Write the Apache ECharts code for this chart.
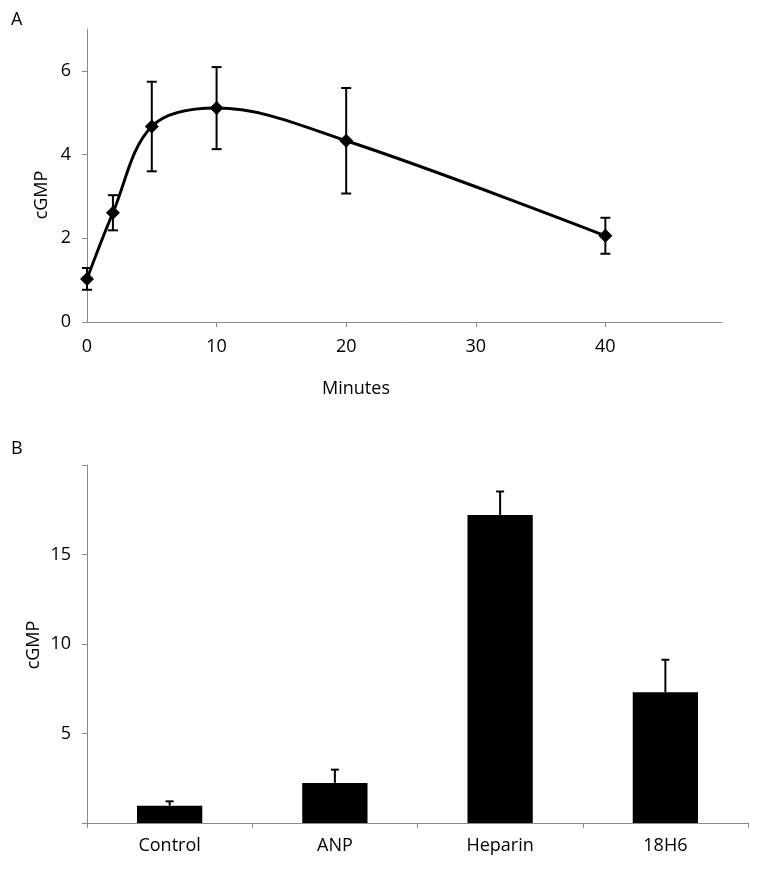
<!DOCTYPE html>
<html>
<head>
<meta charset="utf-8">
<script src="https://cdn.jsdelivr.net/npm/echarts@6/dist/echarts.min.js"></script>
<style>
html,body{margin:0;padding:0;background:#fff;}
#chart{width:762px;height:870px;}
</style>
</head>
<body>
<div id="chart"></div>
<script>
// Panel A data
const timeMin = [0, 2, 5, 10, 20, 40];
const cgmpTime = [1.03, 2.61, 4.67, 5.11, 4.33, 2.06];
const cgmpTimeErr = [0.26, 0.42, 1.07, 0.98, 1.26, 0.43];
const xTicksA = [0, 10, 20, 30, 40];
const yTicksA = [0, 2, 4, 6];

// Panel B data
const treatments = ['Control', 'ANP', 'Heparin', '18H6'];
const cgmpTreat = [0.97, 2.24, 17.21, 7.31];
const cgmpTreatErr = [0.24, 0.74, 1.31, 1.81];
const yTicksB = [5, 10, 15];

const FONT = 'Open Sans';
const AXIS_COLOR = '#8a8a8a';

const chart = echarts.init(document.getElementById('chart'), null, {renderer: 'canvas'});

const errDataA = timeMin.map((t, i) => [t, cgmpTime[i] - cgmpTimeErr[i], cgmpTime[i] + cgmpTimeErr[i]]);
const errDataB = treatments.map((c, i) => [i, cgmpTreat[i], cgmpTreat[i] + cgmpTreatErr[i]]);

function errRender(capHalf, both) {
  return function (params, api) {
    const lo = api.coord([api.value(0), api.value(1)]);
    const hi = api.coord([api.value(0), api.value(2)]);
    const st = {stroke: '#000', lineWidth: 2};
    const children = [
      {type: 'line', shape: {x1: lo[0], y1: lo[1], x2: hi[0], y2: hi[1]}, style: st},
      {type: 'line', shape: {x1: hi[0] - capHalf, y1: hi[1], x2: hi[0] + capHalf, y2: hi[1]}, style: st}
    ];
    if (both) {
      children.push({type: 'line', shape: {x1: lo[0] - capHalf, y1: lo[1], x2: lo[0] + capHalf, y2: lo[1]}, style: st});
    }
    return {type: 'group', children: children};
  };
}

const labelStyle = {color: '#000', fontFamily: FONT, fontSize: 18};
const textFont = '18px "Open Sans"';

const option = {
  animation: false,
  backgroundColor: '#fff',
  textStyle: {fontFamily: FONT},
  grid: [
    {left: 87, top: 29, width: 635, height: 293, containLabel: false},
    {left: 87, top: 465, width: 661, height: 358, containLabel: false}
  ],
  xAxis: [
    {
      gridIndex: 0, type: 'value', min: 0, max: 49,
      axisLine: {show: true, onZero: false, lineStyle: {color: AXIS_COLOR, width: 1}},
      axisTick: {show: true, length: 5, customValues: [10, 20, 30, 40], lineStyle: {color: AXIS_COLOR}},
      axisLabel: Object.assign({margin: 16, customValues: xTicksA}, labelStyle),
      splitLine: {show: false}
    },
    {
      gridIndex: 1, type: 'category', data: treatments,
      axisLine: {show: true, lineStyle: {color: AXIS_COLOR, width: 1}},
      axisTick: {show: true, length: 5, lineStyle: {color: AXIS_COLOR}},
      axisLabel: Object.assign({margin: 14}, labelStyle),
      splitLine: {show: false}
    }
  ],
  yAxis: [
    {
      gridIndex: 0, type: 'value', min: 0, max: 7,
      axisLine: {show: true, onZero: false, lineStyle: {color: AXIS_COLOR, width: 1}},
      axisTick: {show: true, length: 5, customValues: yTicksA, lineStyle: {color: AXIS_COLOR}},
      axisLabel: Object.assign({margin: 16, customValues: yTicksA}, labelStyle),
      splitLine: {show: false}
    },
    {
      gridIndex: 1, type: 'value', min: 0, max: 20,
      axisLine: {show: true, onZero: false, lineStyle: {color: AXIS_COLOR, width: 1}},
      axisTick: {show: true, length: 5, customValues: [0, 5, 10, 15, 20], lineStyle: {color: AXIS_COLOR}},
      axisLabel: Object.assign({margin: 16, customValues: yTicksB}, labelStyle),
      splitLine: {show: false}
    }
  ],
  series: [
    {
      type: 'custom', xAxisIndex: 0, yAxisIndex: 0,
      renderItem: errRender(5, true), data: errDataA, z: 1, silent: true
    },
    {
      type: 'line', xAxisIndex: 0, yAxisIndex: 0,
      data: timeMin.map((t, i) => [t, cgmpTime[i]]),
      smooth: 0.35,
      symbol: 'diamond', symbolSize: [14, 14],
      itemStyle: {color: '#000'},
      lineStyle: {color: '#000', width: 3},
      z: 3
    },
    {
      type: 'custom', xAxisIndex: 1, yAxisIndex: 1,
      renderItem: errRender(4, false), data: errDataB, z: 1, silent: true
    },
    {
      type: 'bar', xAxisIndex: 1, yAxisIndex: 1,
      data: cgmpTreat, barWidth: '39.5%',
      itemStyle: {color: '#000'},
      z: 3
    }
  ],
  graphic: [
    {type: 'text', left: 11, top: 11, style: {text: 'A', font: textFont, fill: '#000'}},
    {type: 'text', left: 11, top: 440, style: {text: 'B', font: textFont, fill: '#000'}},
    {type: 'text', x: 356, y: 389, style: {text: 'Minutes', font: textFont, fill: '#000', align: 'center', verticalAlign: 'middle'}},
    {type: 'text', x: 42, y: 195, rotation: Math.PI / 2, style: {text: 'cGMP', font: textFont, fill: '#000', align: 'center', verticalAlign: 'middle'}},
    {type: 'text', x: 34, y: 645, rotation: Math.PI / 2, style: {text: 'cGMP', font: textFont, fill: '#000', align: 'center', verticalAlign: 'middle'}}
  ]
};
chart.setOption(option);
</script>
</body>
</html>
